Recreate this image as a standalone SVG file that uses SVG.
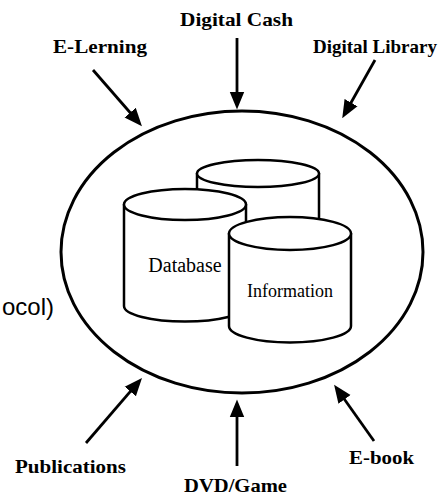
<svg xmlns="http://www.w3.org/2000/svg" width="442" height="498" viewBox="0 0 442 498">
  <style>
    .label { font-family: "Liberation Serif", "Times New Roman", serif; font-weight: bold; font-size: 19px; fill: #000; }
    .inner { font-family: "Liberation Serif", "Times New Roman", serif; fill: #000; }
    .side { font-family: "Liberation Sans", Arial, sans-serif; font-size: 24px; fill: #000; }
    .cyl { fill: #fff; stroke: #000; stroke-width: 2.5; stroke-linejoin: round; }
    .arrow { fill: none; stroke: #000; stroke-width: 2.8; marker-end: url(#head); }
  </style>
  <defs>
    <marker id="head" markerUnits="userSpaceOnUse" markerWidth="18" markerHeight="16" viewBox="0 0 17 14" refX="8" refY="7" orient="auto">
      <path d="M0,0 L17,7 L0,14 Z" fill="#000"/>
    </marker>
  </defs>

  <rect width="442" height="498" fill="#fff"/>

  <!-- outer boundary -->
  <g id="boundary">
    <ellipse cx="242" cy="252" rx="181" ry="141" fill="none" stroke="#000" stroke-width="3"/>
  </g>

  <!-- cylinder behind -->
  <g id="store-back">
    <path class="cyl" d="M197,173.5 L197,275 A61,13.5 0 0 0 319,275 L319,173.5 Z"/>
    <ellipse class="cyl" cx="258" cy="173.5" rx="61" ry="13.5"/>
  </g>

  <g id="database">
    <path class="cyl" d="M124,204.5 L124,306 A61,15.5 0 0 0 246,306 L246,204.5 Z"/>
    <ellipse class="cyl" cx="185" cy="204.5" rx="61" ry="15.5"/>
    <text class="inner" x="185" y="272" font-size="20" text-anchor="middle">Database</text>
  </g>

  <g id="information">
    <path class="cyl" d="M229,233.5 L229,326 A61,16.5 0 0 0 351,326 L351,233.5 Z"/>
    <ellipse class="cyl" cx="290" cy="233.5" rx="61" ry="16.5"/>
    <text class="inner" x="290" y="297" font-size="18" text-anchor="middle">Information</text>
  </g>

  <!-- sources feeding the boundary -->
  <g id="connectors">
    <line class="arrow" x1="237" y1="38" x2="237" y2="100"/>
    <line class="arrow" x1="93" y1="70" x2="135.7" y2="119"/>
    <line class="arrow" x1="375" y1="60" x2="346.9" y2="110"/>
    <line class="arrow" x1="86" y1="443" x2="135.8" y2="385.1"/>
    <line class="arrow" x1="237" y1="466" x2="237" y2="409"/>
    <line class="arrow" x1="374" y1="441" x2="339.6" y2="392.5"/>
  </g>

  <g id="digital-cash"><text class="label" x="180" y="26" textLength="113" lengthAdjust="spacingAndGlyphs">Digital Cash</text></g>
  <g id="e-lerning"><text class="label" x="53" y="53" textLength="94" lengthAdjust="spacingAndGlyphs">E-Lerning</text></g>
  <g id="digital-library"><text class="label" x="437" y="53" font-size="17" text-anchor="end">Digital Library</text></g>
  <g id="publications"><text class="label" x="15" y="473" textLength="111" lengthAdjust="spacingAndGlyphs">Publications</text></g>
  <g id="dvd-game"><text class="label" x="184" y="492" textLength="103" lengthAdjust="spacingAndGlyphs">DVD/Game</text></g>
  <g id="e-book"><text class="label" x="349" y="464" textLength="65" lengthAdjust="spacingAndGlyphs">E-book</text></g>

  <g id="protocol-fragment"><text class="side" x="54" y="315" text-anchor="end">ocol)</text></g>
</svg>
